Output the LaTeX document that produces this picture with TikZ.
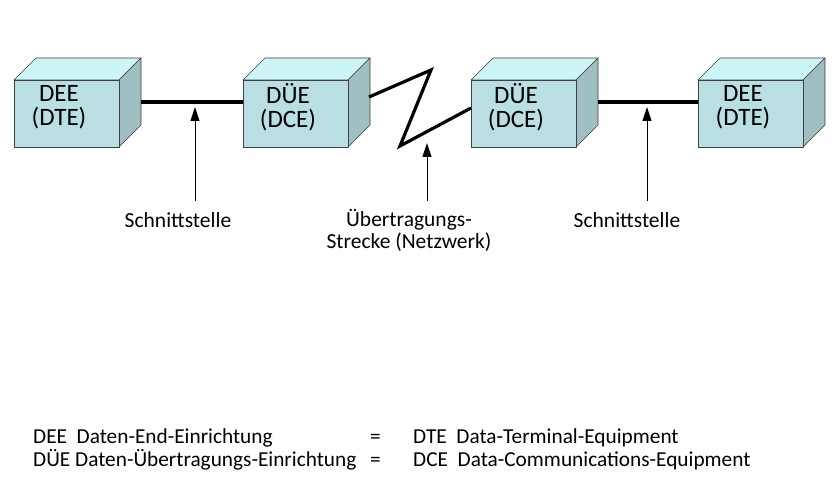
\documentclass[tikz,border=0pt]{standalone}
\usepackage{fontspec}
\setmainfont{Carlito}
\usetikzlibrary{arrows.meta}
\definecolor{frontc}{HTML}{B9DFE3}
\definecolor{topc}{HTML}{CDF4F6}
\definecolor{sidec}{HTML}{A0BFC2}
\definecolor{edgec}{HTML}{404040}
\tikzset{
  face/.style={draw=edgec, line width=0.6pt, line join=round},
  boxlabel/.style={font=\fontsize{25}{24}\selectfont, align=center, inner sep=0pt},
  lbl/.style={font=\fontsize{21.5}{22}\selectfont, align=center, inner sep=0pt},
  legend/.style={font=\fontsize{21.3}{23}\selectfont, anchor=base west, inner sep=0pt},
  link/.style={line width=3.2pt, line join=miter},
  pointer/.style={line width=1pt, -{Triangle[length=14pt, width=9pt]}},
}
% #1 name, #2 left x of front face
\newcommand{\cubebox}[4]{%
  \fill[topc] (#2,80) -- ++(22,-22) -- ++(105,0) -- ++(-22,22) -- cycle;
  \draw[face] (#2,80) -- ++(22,-22) -- ++(105,0) -- ++(-22,22) -- cycle;
  \fill[sidec] (#2+105,80) -- ++(22,-22) -- ++(0,67) -- ++(-22,22) -- cycle;
  \draw[face] (#2+105,80) -- ++(22,-22) -- ++(0,67) -- ++(-22,22) -- cycle;
  \node[face, fill=frontc, minimum width=105pt, minimum height=67pt, anchor=north west, inner sep=0pt, outer sep=0pt] (#1) at (#2,80) {};
  \coordinate (#1-side) at (#2+127,102);
  \node[boxlabel] (#1-t) at (#2+45,107) {#3\\#4};
}
\begin{document}
\begin{tikzpicture}[x=1pt,y=-1pt]
\useasboundingbox[fill=white] (0,0) rectangle (834,489);
\cubebox{dee1}{14}{DEE}{(DTE)}
\cubebox{due1}{243}{DÜE}{(DCE)}
\cubebox{due2}{471}{DÜE}{(DCE)}
\cubebox{dee2}{698}{DEE}{(DTE)}

\coordinate (z0) at (369,97);
\coordinate (z1) at (431,70);
\coordinate (z2) at (400,146);
\coordinate (z3) at (471,108);

\draw[link] (dee1-side) -- (due1.west |- dee1-side);
\draw[link] (dee2.west |- due2-side) -- (due2-side);
\draw[link] (z0) -- (z1) -- (z2) -- (z3);

\node[lbl] (s1) at (178,220) {Schnittstelle};
\node[lbl] (net) at (409,230) {Übertragungs-\\Strecke (Netzwerk)};
\node[lbl] (s2) at (627,220) {Schnittstelle};

\coordinate (a1) at (195,201);
\coordinate (a2) at (427,201);
\coordinate (a3) at (647,201);
\coordinate (t1) at (195,107);
\coordinate (t2) at (427,143);
\coordinate (t3) at (647,107);
\draw[pointer] (a1) -- (t1);
\draw[pointer] (a2) -- (t2);
\draw[pointer] (a3) -- (t3);

\node[legend] (l1a) at (33,443) {DEE\ \ Daten-End-Einrichtung};
\node[legend] (l2a) at (33,466) {DÜE Daten-Übertragungs-Einrichtung};
\node[legend] (l1b) at (370,443) {=};
\node[legend] (l2b) at (370,466) {=};
\node[legend] (l1c) at (413,443) {DTE\ \ Data-Terminal-Equipment};
\node[legend] (l2c) at (413,466) {DCE\ \ Data-Communications-Equipment};
\end{tikzpicture}
\end{document}
